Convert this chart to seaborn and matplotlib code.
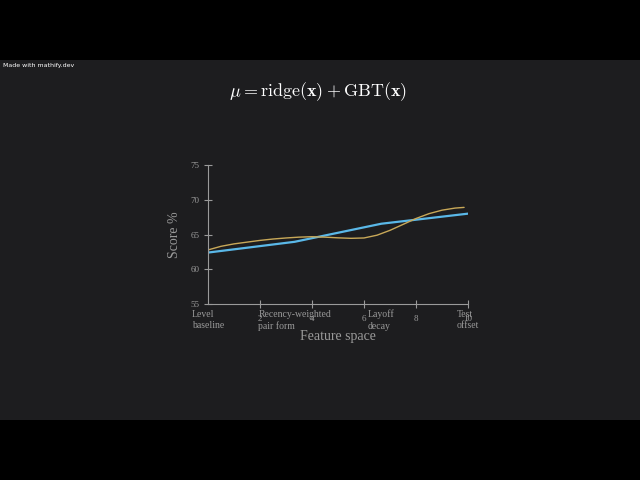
import matplotlib
matplotlib.use("Agg")
import matplotlib.pyplot as plt
import seaborn as sns
import pandas as pd
from matplotlib.patches import Rectangle

# ---- data ----
ridge_x = [0, 10/3, 20/3, 10]
ridge_y = [62.4, 63.95, 66.55, 68.0]

gbt_x = [0, 0.5, 1, 1.5, 2, 2.5, 3, 3.5, 4, 4.5, 5, 5.5, 6, 6.5, 7, 7.5, 8, 8.5, 9, 9.5, 9.85]
gbt_y = [62.78, 63.3, 63.65, 63.9, 64.15, 64.35, 64.5, 64.62, 64.68, 64.62, 64.52, 64.45, 64.5,
         64.9, 65.6, 66.45, 67.3, 68.0, 68.5, 68.8, 68.9]

num_ticks = [2, 4, 6, 8, 10]
num_labels = ["2", "4", "6", "8", "10"]
feat_ticks = [0, 10/3, 20/3, 10]
feat_labels = ["Level\nbaseline", "Recency-weighted\npair form", "Layoff\ndecay", "Test\noffset"]
y_ticks = [55, 60, 65, 70, 75]

sns.set_theme(style="dark")
plt.rcParams["font.family"] = ["Liberation Serif", "DejaVu Serif"]
plt.rcParams["mathtext.fontset"] = "cm"

fig = plt.figure(figsize=(6.4, 4.8), dpi=100, facecolor="black")
fig.patches.append(Rectangle((0, 60/480), 1, 360/480, transform=fig.transFigure,
                             facecolor="#1d1d1f", edgecolor="none", zorder=-10))
ax = fig.add_axes([208/640, 1 - 304/480, 260/640, 139/480])
ax.set_zorder(5)
ax.set_facecolor("#1d1d1f")
ax.xaxis.remove_overlapping_locs = False

df_r = pd.DataFrame({"x": ridge_x, "y": ridge_y})
df_g = pd.DataFrame({"x": gbt_x, "y": gbt_y})
sns.lineplot(data=df_r, x="x", y="y", ax=ax, color="#5ab8e8", linewidth=1.6)
sns.lineplot(data=df_g, x="x", y="y", ax=ax, color="#c8a858", linewidth=1.0)

ax.set_xlim(0, 10)
ax.set_ylim(55, 75)
ax.set_yticks(y_ticks)
ax.set_xticks(num_ticks)
ax.set_xticklabels(num_labels)
ax.set_xticks(feat_ticks, minor=True)
ax.set_xticklabels(feat_labels, minor=True, multialignment="left", linespacing=1.35)

gray = "#9a9a9a"
ax.tick_params(axis="both", which="major", direction="inout", length=6, width=0.8,
               color=gray, labelcolor=gray, labelsize=6.5)
ax.tick_params(axis="x", which="major", pad=5)
ax.tick_params(axis="x", which="minor", length=0, labelcolor=gray, labelsize=7, pad=4)
ax.tick_params(axis="y", which="major", pad=3)
ax.tick_params(bottom=True, left=True)
ax.tick_params(axis="x", which="minor", bottom=True)

for s in ["top", "right"]:
    ax.spines[s].set_visible(False)
for s in ["left", "bottom"]:
    ax.spines[s].set_color(gray)
    ax.spines[s].set_linewidth(0.8)
ax.grid(False)

ax.set_xlabel("Feature space", color=gray, fontsize=10, labelpad=-1)
ax.set_ylabel("Score %", color=gray, fontsize=10, labelpad=7)

fig.text(318/640, 1 - 92/480, r"$\mu = \mathrm{ridge}(\mathbf{x}) + \mathrm{GBT}(\mathbf{x})$",
         color="white", fontsize=13, ha="center", va="center")
fig.text(3/640, 1 - 65/480, "Made with mathify.dev", color="white", fontsize=4.5,
         family=["DejaVu Sans"], ha="left", va="center")

fig.savefig("out.png", dpi=100, facecolor="black")
